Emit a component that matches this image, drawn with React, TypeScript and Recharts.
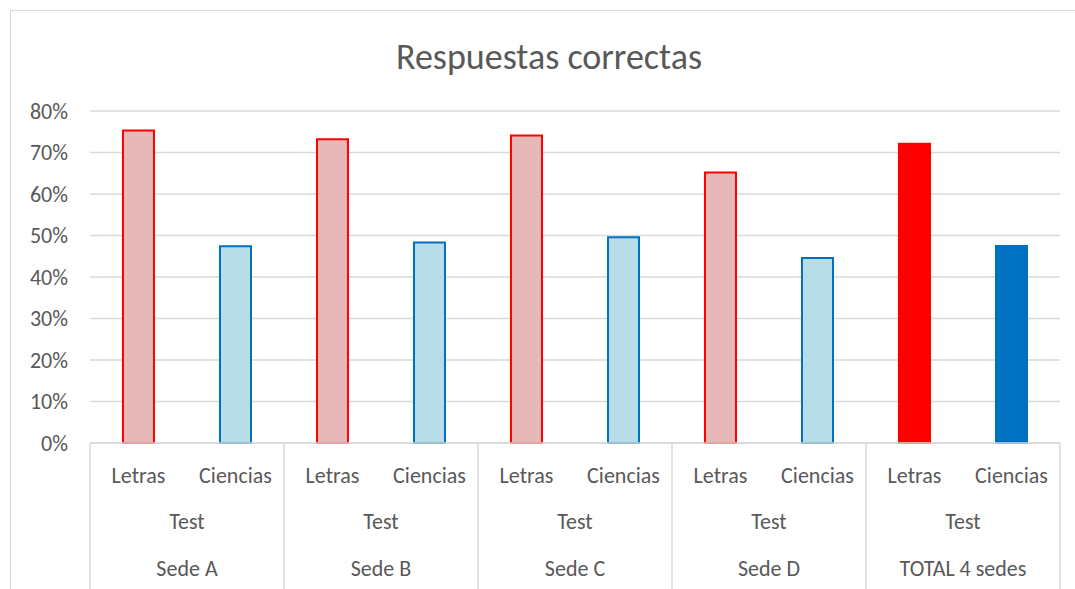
import { BarChart, Bar, Cell, XAxis, YAxis, CartesianGrid } from "recharts"

const sedes = ["Sede A", "Sede B", "Sede C", "Sede D", "TOTAL 4 sedes"]
const subjects = ["Letras", "Ciencias"]
const letras = [0.753, 0.732, 0.741, 0.652, 0.721]
const ciencias = [0.474, 0.483, 0.496, 0.446, 0.475]
const yTicks = [0, 0.1, 0.2, 0.3, 0.4, 0.5, 0.6, 0.7, 0.8]

const data = sedes.flatMap((sede, i) => [
  { key: `${sede}-L`, subject: subjects[0], sede, value: letras[i], total: i === sedes.length - 1 },
  { key: `${sede}-C`, subject: subjects[1], sede, value: ciencias[i], total: i === sedes.length - 1 },
])

const TEXT = "#595959"
const GRID = "#d9d9d9"
const FONT = "Carlito, Calibri, Lato, 'Open Sans', sans-serif"
const TICK_SIZE = 22

// plot area: x 90..1060 -> 10 bands
const BAND = 970 / data.length

function colorsFor(d: { subject: string; total: boolean }) {
  if (d.subject === "Letras") {
    return d.total ? { fill: "#ff0000", stroke: "#ff0000" } : { fill: "#e6b9b8", stroke: "#ff0000" }
  }
  return d.total ? { fill: "#0070c0", stroke: "#0070c0" } : { fill: "#b7dde8", stroke: "#0070c0" }
}

function MultiTick(props: any) {
  const { x, y, payload, index } = props
  const row = data[index]
  const first = index % 2 === 0
  const groupMid = x + BAND / 2
  return (
    <g>
      <text x={x} y={y + 32} textAnchor="middle" dominantBaseline="central" fill={TEXT} fontSize={TICK_SIZE} fontFamily={FONT}>
        {payload.value}
      </text>
      {first && (
        <>
          <line x1={x - BAND / 2} x2={x - BAND / 2} y1={y} y2={y + 146} stroke={GRID} strokeWidth={1.5} />
          <text x={groupMid} y={y + 78} textAnchor="middle" dominantBaseline="central" fill={TEXT} fontSize={TICK_SIZE} fontFamily={FONT}>
            Test
          </text>
          <text x={groupMid} y={y + 125} textAnchor="middle" dominantBaseline="central" fill={TEXT} fontSize={TICK_SIZE} fontFamily={FONT}>
            {row.sede}
          </text>
        </>
      )}
      {index === data.length - 1 && (
        <line x1={x + BAND / 2} x2={x + BAND / 2} y1={y} y2={y + 146} stroke={GRID} strokeWidth={1.5} />
      )}
    </g>
  )
}

export default function App() {
  return (
    <div style={{ position: "absolute", left: 0, top: 0, width: 1075, height: 589, background: "#fff", overflow: "hidden" }}>
      <div style={{ position: "absolute", left: 10, top: 10, width: 1100, height: 620, border: `1px solid ${GRID}` }} />
      <div style={{ position: "absolute", left: 0, top: 35, width: 1098, textAlign: "center", fontFamily: FONT, fontSize: 36, lineHeight: "44px", color: TEXT }}>
        Respuestas correctas
      </div>
      <div style={{ position: "absolute", left: 0, top: 0 }}>
        <BarChart
          width={1075}
          height={589}
          data={data}
          margin={{ top: 111, right: 15, bottom: 0, left: 10 }}
          barCategoryGap="34%"
        >
          <CartesianGrid vertical={false} stroke={GRID} strokeWidth={1.5} />
          <XAxis
            dataKey="subject"
            interval={0}
            tickLine={false}
            tickSize={0}
            tickMargin={0}
            axisLine={{ stroke: GRID, strokeWidth: 1.5 }}
            tick={<MultiTick />}
            height={146}
          />
          <YAxis
            domain={[0, 0.8]}
            ticks={yTicks}
            interval={0}
            width={80}
            axisLine={false}
            tickLine={false}
            tickSize={0}
            tickMargin={22}
            tickFormatter={(v: number) => `${Math.round(v * 100)}%`}
            tick={{ fill: TEXT, fontSize: TICK_SIZE, fontFamily: FONT }}
          />
          <Bar dataKey="value" isAnimationActive={false} strokeWidth={2}>
            {data.map((d) => {
              const c = colorsFor(d)
              return <Cell key={d.key} fill={c.fill} stroke={c.stroke} />
            })}
          </Bar>
        </BarChart>
      </div>
    </div>
  )
}
